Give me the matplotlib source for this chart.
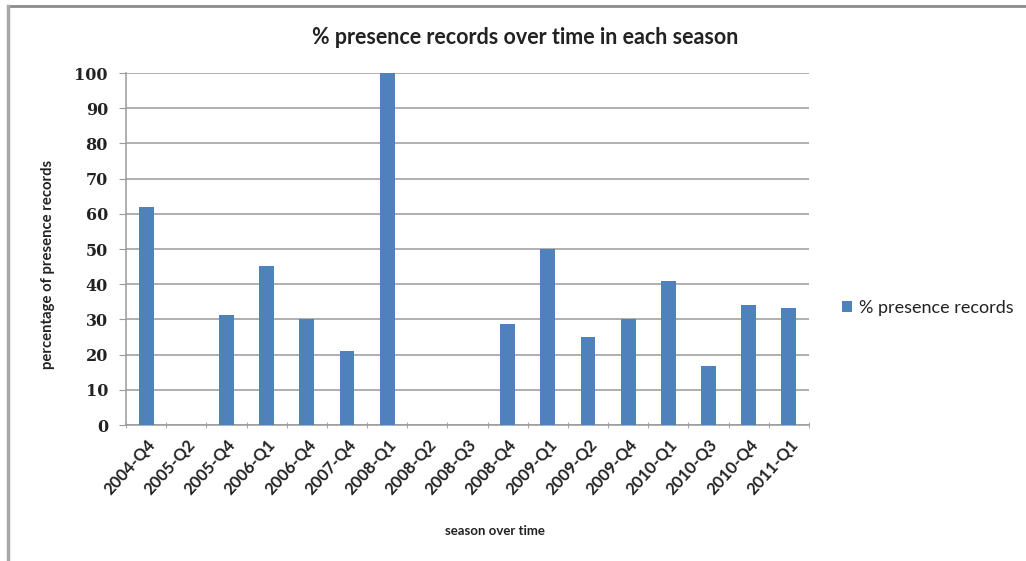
import matplotlib.pyplot as plt
import matplotlib.lines as mlines
import numpy as np

seasons = ["2004-Q4", "2005-Q2", "2005-Q4", "2006-Q1", "2006-Q4", "2007-Q4",
           "2008-Q1", "2008-Q2", "2008-Q3", "2008-Q4", "2009-Q1", "2009-Q2",
           "2009-Q4", "2010-Q1", "2010-Q3", "2010-Q4", "2011-Q1"]
presence_pct = [62.0, 0, 31.25, 45.2, 30.0, 21.1, 100.0, 0, 0, 28.6, 50.0,
                25.0, 30.0, 41.0, 16.7, 34.0, 33.3]
y_ticks = list(range(0, 101, 10))

bar_color = "#4F81BD"
grid_color = "#9A9A9A"
text_color = "#222222"

plt.rcParams['font.family'] = ['Lato', 'DejaVu Sans']

fig = plt.figure(figsize=(10.26, 5.61), dpi=100)
fig.patch.set_facecolor("white")

# Frame of the chart area (top and left edges)
fig.add_artist(mlines.Line2D([8 / 1026, 1.0], [1 - 6 / 561, 1 - 6 / 561],
                             transform=fig.transFigure, color="#8C8C8C", lw=2))
fig.add_artist(mlines.Line2D([8 / 1026, 8 / 1026], [0.0, 1 - 6 / 561],
                             transform=fig.transFigure, color="#A8A8A8", lw=2.5))

ax = fig.add_axes([126 / 1026, 1 - 425 / 561, (809 - 126) / 1026, (425 - 73) / 561])
x = np.arange(len(seasons))
ax.bar(x, presence_pct, width=0.37, color=bar_color, zorder=3,
       label="% presence records")

ax.set_xlim(-0.5, len(seasons) - 0.5)
ax.set_ylim(0, 100)
ax.set_yticks(y_ticks)
ax.set_yticklabels([str(v) for v in y_ticks], fontfamily="DejaVu Serif",
                   fontweight="bold", fontsize=11.5, color=text_color)
ax.yaxis.grid(True, color=grid_color, lw=1.1, zorder=0)

ax.set_xticks(x)
ax.set_xticklabels(seasons, rotation=48, ha="right", va="top",
                   rotation_mode="anchor", fontsize=12, fontweight="bold",
                   color=text_color)
ax.set_xticks(np.arange(-0.5, len(seasons)), minor=True)
ax.tick_params(axis="x", which="major", length=0, pad=8)
ax.tick_params(axis="x", which="minor", length=4, color=grid_color, direction="inout")
ax.tick_params(axis="y", length=5, color=grid_color, pad=8)

for side in ["top", "right"]:
    ax.spines[side].set_visible(False)
for side in ["left", "bottom"]:
    ax.spines[side].set_color(grid_color)
    ax.spines[side].set_linewidth(1.1)

fig.text(525 / 1026, 1 - 37 / 561, "% presence records over time in each season",
         fontsize=15.5, fontweight="bold", color=text_color,
         ha="center", va="center")
ax.set_ylabel("percentage of presence records", fontsize=10.7, fontweight="bold",
              color=text_color, va="center")
ax.yaxis.set_label_coords(-0.114, 0.455)
ax.set_xlabel("season over time", fontsize=9.5, fontweight="bold",
              color=text_color, va="center")
ax.xaxis.set_label_coords(0.54, -0.301)

leg = ax.legend(loc="center left", bbox_to_anchor=(1.025, 0.333), frameon=False,
                fontsize=13, handlelength=0.55, handleheight=0.55,
                handletextpad=0.4)
for t in leg.get_texts():
    t.set_color(text_color)

fig.savefig("out.png", dpi=100)
